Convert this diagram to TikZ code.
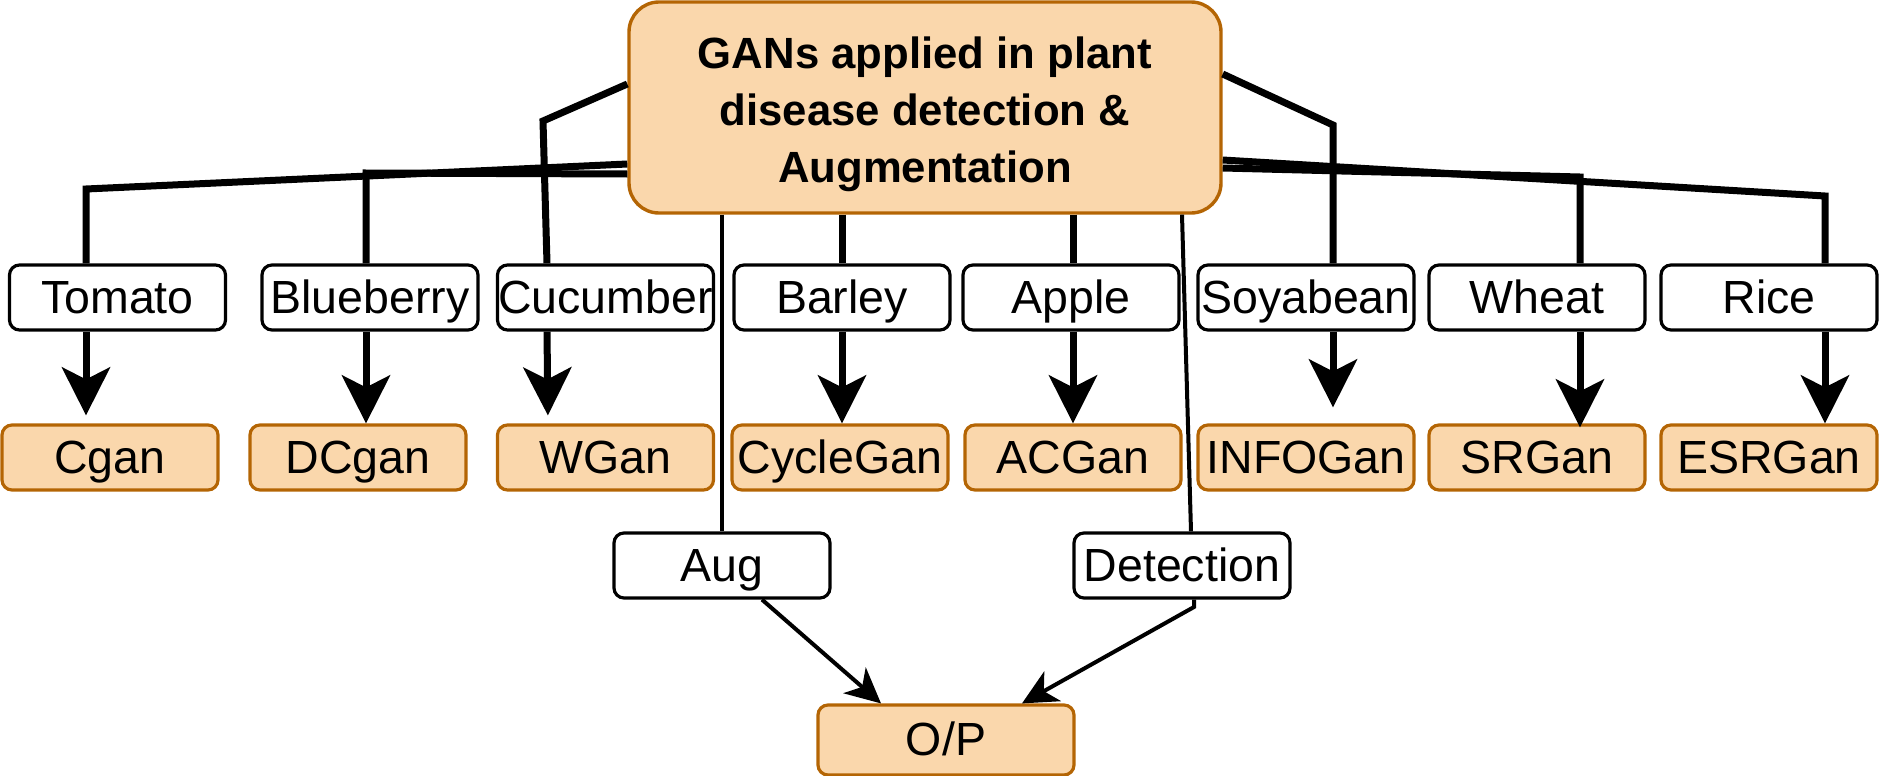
\documentclass[tikz,border=0pt]{standalone}
\usepackage{fontspec}
\setmainfont{Liberation Sans}
\usetikzlibrary{arrows.meta,positioning,calc}
\definecolor{ganfill}{HTML}{FAD7AC}
\definecolor{ganline}{HTML}{B46504}

\begin{document}
\begin{tikzpicture}[x=0.5pt,y=-0.5pt,
  crop/.style={rectangle,draw,fill=white,rounded corners=5pt,line width=1.6pt,minimum width=108pt,minimum height=32.5pt,inner sep=0pt,text height=15.5pt,text depth=0pt,font=\fontsize{23.25}{28}\selectfont},
  gan/.style={crop,draw=ganline,fill=ganfill},
  heavy/.style={line width=3.5pt},
  heavyarrow/.style={heavy,-{Stealth[length=24pt,width=24pt,inset=6pt]}},
  light/.style={line width=2pt},
  lightarrow/.style={light,-{Stealth[length=17.5pt,width=17pt,inset=5pt]}}]
\useasboundingbox (0,0) rectangle (1880,776);

% Main topic
\node[rectangle,draw=ganline,fill=ganfill,rounded corners=15pt,line width=1.7pt,minimum width=296pt,minimum height=105.5pt,align=center,font=\fontsize{21.85}{28.5}\selectfont\bfseries] (main) at (925,107.5) {\rule{0pt}{23pt}GANs applied in plant\\disease detection \&\\Augmentation};

% Plants
\node[crop] (tomato) at (117.5,297.5) {Tomato};
\node[crop] (blueberry) at (370,297.5) {Blueberry};
\node[crop] (cucumber) at (605.5,297.5) {Cucumber};
\node[crop] (barley) at (842,297.5) {Barley};
\node[crop] (apple) at (1071,297.5) {Apple};
\node[crop] (soyabean) at (1306,297.5) {Soyabean};
\node[crop] (wheat) at (1537,297.5) {Wheat};
\node[crop] (rice) at (1769,297.5) {Rice};

% GAN variants
\node[gan] (cgan) at (110,457.5) {Cgan};
\node[gan] (dcgan) at (358,457.5) {DCgan};
\node[gan] (wgan) at (605.5,457.5) {WGan};
\node[gan] (cyclegan) at (840,457.5) {CycleGan};
\node[gan] (acgan) at (1073,457.5) {ACGan};
\node[gan] (infogan) at (1306,457.5) {INFOGan};
\node[gan] (srgan) at (1537,457.5) {SRGan};
\node[gan] (esrgan) at (1769,457.5) {ESRGan};

% Output branch
\node[crop] (aug) at (722,565.5) {Aug};
\node[crop] (detect) at (1182,565.5) {Detection};
\node[gan,minimum width=128pt,minimum height=35pt] (op) at (946,740) {O/P};

% Main to plants
\draw[heavy] (main.west |- 0,164) -- (86,189) -- (tomato.north -| 86,0);
\draw[heavy] (main.west |- 0,174) -- (366,173) -- (blueberry.north -| 366,0);
\draw[heavy] (main.west |- 0,84) -- (543,121) -- (cucumber.north -| 547,0);
\draw[heavy] (barley.north |- main.south) -- (barley.north);
\draw[heavy] (acgan.north |- main.south) -- (apple.north -| acgan.north);
\draw[heavy] (main.east |- 0,74) -- (1333,125) -- (soyabean.north -| 1333,0);
\draw[heavy] (main.east |- 0,168) -- (1580,177) -- (wheat.north -| 1580,0);
\draw[heavy] (main.east |- 0,160) -- (1825,196) -- (rice.north -| 1825,0);

% Plants to GANs
\draw[heavyarrow,shorten >=4pt] (tomato.south -| 86,0) -- (cgan.north -| 86,0);
\draw[heavyarrow] (blueberry.south -| 366,0) -- (dcgan.north -| 366,0);
\draw[heavyarrow,shorten >=4pt] (cucumber.south -| 547,0) -- (wgan.north -| 548,0);
\draw[heavyarrow] (barley.south) -- (cyclegan.north -| barley.south);
\draw[heavyarrow] (apple.south -| acgan.north) -- (acgan.north);
\draw[heavyarrow,shorten >=8pt] (soyabean.south -| 1333,0) -- (infogan.north -| 1333,0);
\draw[heavyarrow,shorten >=-2pt] (wheat.south -| 1580,0) -- (srgan.north -| 1580,0);
\draw[heavyarrow] (rice.south -| 1825,0) -- (esrgan.north -| 1825,0);

% Output lines
\draw[light] (aug.north |- main.south) -- (aug.north);
\draw[light] (main.south -| 1182,0) -- (detect.north -| 1191,0);
\draw[lightarrow] (aug.south -| 762,0) -- (op.north -| 881,0);
\draw[lightarrow] (detect.south -| 1194,0) -- (1194,607) -- (op.north -| 1022,0);
\end{tikzpicture}
\end{document}
